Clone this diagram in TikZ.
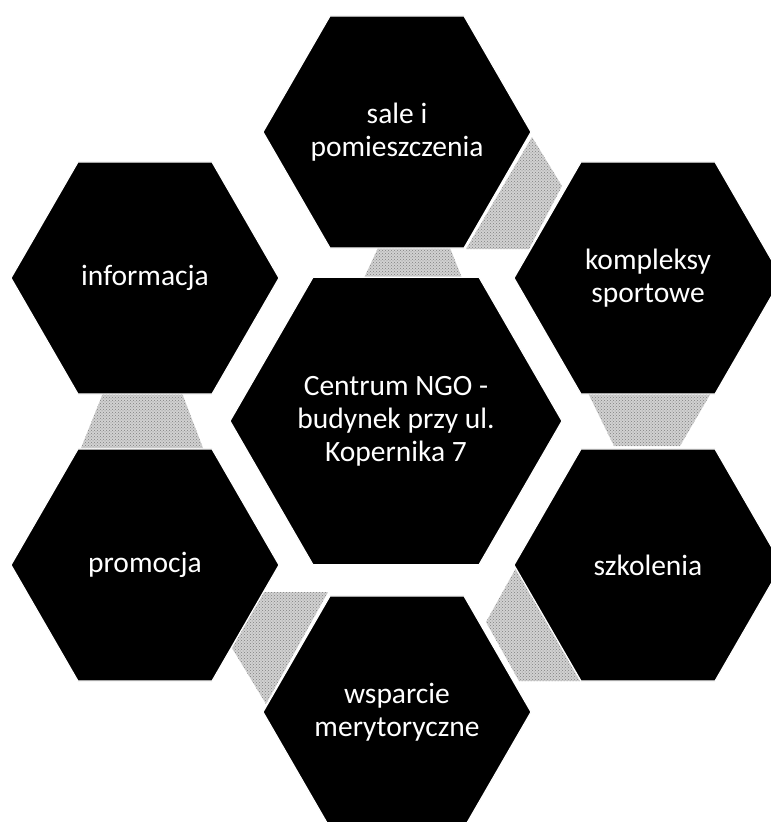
\documentclass[tikz,border=0pt]{standalone}
\usepackage{fontspec}
\setmainfont{Carlito}
\usetikzlibrary{shapes.geometric,patterns}
\tikzset{
  hexbig/.style={shape=regular polygon, regular polygon sides=6, fill=black, draw=white, line width=1.2pt,
    inner sep=0pt, minimum size=332pt},
  hexsmall/.style={hexbig, minimum size=268pt},
  hextext/.style={text=white, align=center, inner sep=0pt, font=\fontsize{29.5}{33}\selectfont},
  conn/.style={fill=black!18},
  connpat/.style={pattern=crosshatch dots, pattern color=black!50}
}
\begin{document}
\begin{tikzpicture}[x=1pt,y=-1pt]
\useasboundingbox (0,0) rectangle (771,822);
% connectors (gray pieces)
\foreach \p in {
  {(378,248) -- (450,248) -- (462,278) -- (364,278) -- cycle},
  {(532,137) -- (562,186) -- (529,249) -- (466,249) -- cycle},
  {(588,393) -- (711,393) -- (680,446) -- (614,446) -- cycle},
  {(516,568) -- (580,681) -- (519,681) -- (486,622) -- cycle},
  {(263,592) -- (328,592) -- (266,704) -- (232,648) -- cycle},
  {(103,393) -- (182,393) -- (203,448) -- (81,448) -- cycle}} {
  \fill[conn] \p;
  \fill[connpat] \p;
}
% hexagons
\node[hexbig] (center) at (396,421) {};
\node[hexsmall] (sale) at (397,132) {};
\node[hexsmall] (kompleksy) at (648,278) {};
\node[hexsmall] (szkolenia) at (648,565) {};
\node[hexsmall] (wsparcie) at (397,712) {};
\node[hexsmall] (promocja) at (145,565) {};
\node[hexsmall] (informacja) at (145,278) {};
% texts
\node[hextext] (tcenter) at (center) {Centrum NGO -\\budynek przy ul.\\Kopernika 7};
\node[hextext] (tsale) at (sale) {sale i\\pomieszczenia};
\node[hextext] (tkompleksy) at (kompleksy) {kompleksy\\sportowe};
\node[hextext] (tszkolenia) at (szkolenia) {szkolenia};
\node[hextext] (twsparcie) at (wsparcie) {wsparcie\\merytoryczne};
\node[hextext] (tpromocja) at (promocja) {promocja};
\node[hextext] (tinformacja) at (informacja) {informacja};
\end{tikzpicture}
\end{document}
